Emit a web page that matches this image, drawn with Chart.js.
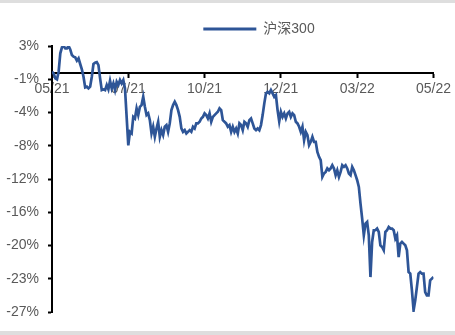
<!DOCTYPE html>
<html><head><meta charset="utf-8">
<script src="https://cdn.jsdelivr.net/npm/chart.js@4.4.1/dist/chart.umd.min.js"></script>
<style>html,body{margin:0;padding:0;background:#fff;overflow:hidden}</style>
</head><body>
<canvas id="c" width="455" height="335" style="display:block;width:455px;height:335px"></canvas>
<script>
const seriesName = '沪深300';
const xTickLabels = ['05/21','07/21','10/21','12/21','03/22','05/22'];
const xTickPositions = [0, 46, 92, 138, 184, 230];
const yTickValues = [3, -0.75, -4.5, -8.25, -12, -15.75, -19.5, -23.25, -27];
const yTickLabels = ['3%','-1%','-4%','-8%','-12%','-16%','-20%','-23%','-27%'];
// cumulative return (%) per trading day
const values = [
  0.10, -0.09, -0.65, -0.76, 0.10, 2.17, 2.85, 3.00, 2.74, 2.74,
  3.00, 2.62, 1.98, 1.80, 1.72, 1.34, 1.61, 0.97, 0.37, -0.46,
  -1.67, -1.59, -1.78, -1.59, -0.46, 0.97, 1.12, 1.19, 0.85, -0.65,
  -1.97, -1.89, -1.97, -1.40, -1.89, -0.92, -1.78, -1.22, -1.97, -1.03,
  -1.40, -0.84, -1.22, -0.84, -1.78, -5.00, -8.20,
  -6.68, -6.86, -4.99, -5.17, -4.04, -4.79, -3.86, -3.66, -2.73, -3.86,
  -4.79, -4.60, -5.36, -6.86, -6.11, -7.24, -6.30, -5.55, -7.24, -6.49,
  -7.05, -6.11, -5.92, -6.68, -5.73, -4.23, -3.66, -3.29, -3.66, -4.23,
  -4.99, -6.30, -6.68, -6.49, -6.86, -6.68, -6.49, -6.68, -6.11, -6.30,
  -5.73, -5.73, -5.55, -5.17, -4.99,
  -4.60, -4.79, -5.17, -4.60, -5.55, -4.99, -4.79, -4.60, -4.42, -4.04,
  -4.23, -5.36, -5.55, -5.73, -6.11, -5.92, -6.68, -6.11, -6.68, -6.30,
  -6.86, -5.73, -5.92, -6.49, -5.55, -5.73, -6.11, -5.36, -5.17, -5.73,
  -6.30, -6.49, -6.30, -6.49, -5.92, -4.79, -3.47, -2.34, -2.16, -2.34,
  -1.97, -2.34, -2.73, -2.53, -4.23, -5.50,
  -4.42, -4.99, -4.60, -5.17, -4.60, -4.42, -4.99, -4.60, -4.79, -5.55,
  -5.73, -6.11, -6.68, -6.11, -7.62, -6.68, -7.05, -8.18, -7.81, -7.24,
  -7.81, -7.81, -8.94, -9.50, -9.88, -11.76, -11.38, -11.20, -10.81, -11.01,
  -10.81, -10.44, -10.81, -11.57, -11.01, -11.76, -11.20, -10.44, -10.63, -10.44,
  -10.81, -11.38, -11.57, -10.63, -11.01, -11.57, -12.14,
  -12.89, -14.77, -16.46, -18.35, -17.03, -16.84, -18.35, -23.06, -19.10, -17.78,
  -17.78, -17.59, -17.97, -19.48, -19.67, -20.04, -17.97, -17.78, -17.41, -17.59,
  -17.59, -17.78, -18.72, -18.35, -20.80, -19.29, -19.10, -19.29, -19.48, -20.04,
  -22.49, -22.67, -24.56, -26.82, -25.69, -24.19, -22.67, -22.49, -22.67, -22.67,
  -24.75, -25.12, -25.12, -23.43, -23.24, -23.06
];

const lineColor = '#2E5597';
const textColor = '#595959';
const fontFamily = "'Liberation Sans', Arial, 'Noto Sans CJK SC', sans-serif";

const framePlugin = {
  id: 'frame',
  beforeDraw(chart) {
    const c = chart.ctx;
    c.save();
    c.fillStyle = '#ffffff';
    c.fillRect(0, 0, chart.width, chart.height);
    c.fillStyle = '#dedede';
    c.fillRect(0, 0, chart.width, 3);
    c.fillRect(0, chart.height - 4, chart.width, 4);
    c.restore();
  }
};
const legendShift = {
  id: 'legendShift',
  afterLayout(chart) {
    const l = chart.legend;
    if (l) { l.left += 42; l.right += 42; }
  }
};

new Chart(document.getElementById('c'), {
  type: 'line',
  data: {
    datasets: [{
      label: seriesName,
      data: values.map((v, i) => ({x: i, y: v})),
      borderColor: lineColor,
      backgroundColor: lineColor,
      borderWidth: 2.7,
      pointRadius: 0,
      pointBorderWidth: 3,
      pointBorderColor: lineColor,
      tension: 0,
      fill: false
    }]
  },
  options: {
    responsive: false,
    devicePixelRatio: 1,
    animation: false,
    layout: {padding: {top: 14, right: 21, bottom: 23, left: 0}},
    plugins: {
      legend: {
        display: true,
        position: 'top',
        align: 'center',
        labels: {
          usePointStyle: true,
          pointStyle: 'line',
          pointStyleWidth: 53,
          padding: 8,
          color: textColor,
          font: {family: fontFamily, size: 14}
        }
      },
      tooltip: {enabled: false}
    },
    scales: {
      x: {
        type: 'linear',
        min: 0,
        max: 230,
        position: {y: 0},
        afterBuildTicks: s => { s.ticks = xTickPositions.map(v => ({value: v})); },
        ticks: {
          callback: (v, i) => xTickLabels[i],
          color: textColor,
          font: {family: fontFamily, size: 14},
          padding: 4,
          maxRotation: 0,
          autoSkip: false
        },
        grid: {display: true, drawOnChartArea: false, drawTicks: true, tickLength: 4, tickColor: '#000', tickWidth: 2},
        border: {display: true, color: '#000', width: 2}
      },
      y: {
        type: 'linear',
        min: -27,
        max: 3,
        afterBuildTicks: s => { s.ticks = yTickValues.map(v => ({value: v})); },
        afterFit: s => { s.width = 52; },
        ticks: {
          callback: (v, i) => yTickLabels[i],
          color: textColor,
          font: {family: fontFamily, size: 14},
          padding: 9
        },
        grid: {display: true, drawOnChartArea: false, drawTicks: true, tickLength: 4, tickColor: '#000', tickWidth: 2},
        border: {display: true, color: '#000', width: 2}
      }
    }
  },
  plugins: [framePlugin, legendShift]
});
</script>
</body></html>
